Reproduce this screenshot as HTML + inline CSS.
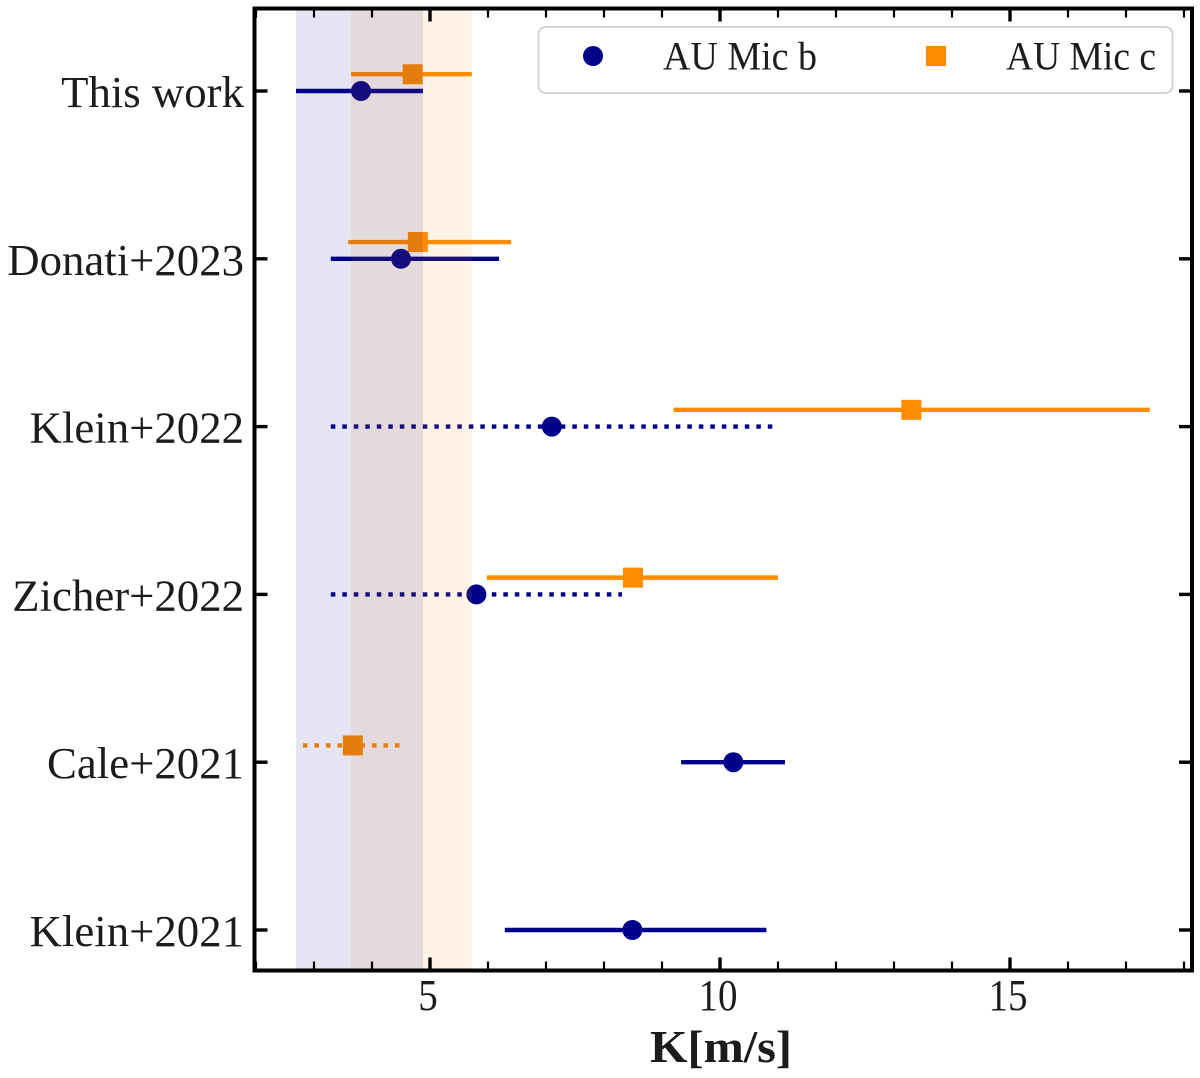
<!DOCTYPE html>
<html lang="en">
<head>
<meta charset="utf-8">
<title>AU Mic b and c RV semi-amplitude comparison</title>
<style>
  html, body { margin: 0; padding: 0; background: #fff; }
  body { width: 1200px; height: 1078px; overflow: hidden; }
  svg { display: block; }
  text { font-family: "Liberation Serif", serif; fill: #1c1c1c; }
</style>
</head>
<body>
<svg id="chart" xmlns="http://www.w3.org/2000/svg" width="1200" height="1078" viewBox="0 0 1200 1078"></svg>
<script>
const categories = ["Klein+2021", "Cale+2021", "Zicher+2022", "Klein+2022", "Donati+2023", "This work"];

const bValues = [8.49, 10.23, 5.80, 7.10, 4.50, 3.81];
const bLow = [6.29, 9.33, 3.29, 3.29, 3.29, 2.69];
const bHigh = [10.80, 11.12, 8.31, 10.91, 6.19, 4.88];
const bIsLimit = [false, false, true, true, false, false];

const cValues = [null, 3.67, 8.50, 13.30, 4.79, 4.70];
const cLow = [null, 2.81, 5.98, 9.20, 3.59, 3.64];
const cHigh = [null, 4.48, 11.00, 17.41, 6.40, 5.72];
const cIsLimit = [false, true, false, false, false, false];

const bBand = [2.69, 4.88];
const cBand = [3.64, 5.72];

const xMajorTicks = [5, 10, 15];
const xMinorTicks = [2, 3, 4, 6, 7, 8, 9, 11, 12, 13, 14, 16, 17, 18];
const xTickLabels = ["5", "10", "15"];

const NS = "http://www.w3.org/2000/svg";
const svg = document.getElementById("chart");
const BLUE = "#00008b";
const ORANGE = "#ff8c00";
const AX = { left: 254.5, right: 1192, top: 8.5, bottom: 970.5 };

function xScale(v) { return 430 + (v - 5) * 58; }
function yScale(i) { return 930 - i * 167.8; }
const C_OFFSET = 0.1;

function make(tag, attrs, parent) {
  const el = document.createElementNS(NS, tag);
  for (const k in attrs) el.setAttribute(k, attrs[k]);
  (parent || svg).appendChild(el);
  return el;
}

function drawSeries(values, low, high, limit, offset, color, square, label) {
  values.forEach(function (v, i) {
    if (v === null) return;
    const y = yScale(i + offset);
    const bar = make("line", {
      x1: xScale(low[i]), x2: xScale(high[i]), y1: y, y2: y,
      stroke: color, "stroke-width": 4.4
    });
    if (limit[i]) bar.setAttribute("stroke-dasharray", "4.5 7");
    
    
    let mark;
    if (square) {
      mark = make("rect", { x: xScale(v) - 10, y: y - 10, width: 20, height: 20, fill: color });
    } else {
      mark = make("ellipse", { cx: xScale(v), cy: y, rx: 10, ry: 10, fill: color });
    }
    
    
  });
}

// series first so that the translucent bands tint them
drawSeries(cValues, cLow, cHigh, cIsLimit, C_OFFSET, ORANGE, true, "au-mic-c");
drawSeries(bValues, bLow, bHigh, bIsLimit, 0, BLUE, false, "au-mic-b");

const bandC = make("rect", {
  x: xScale(cBand[0]), y: AX.top, width: xScale(cBand[1]) - xScale(cBand[0]),
  height: AX.bottom - AX.top, fill: ORANGE, "fill-opacity": 0.1
});



const bandB = make("rect", {
  x: xScale(bBand[0]), y: AX.top, width: xScale(bBand[1]) - xScale(bBand[0]),
  height: AX.bottom - AX.top, fill: BLUE, "fill-opacity": 0.1
});



// x ticks
xMajorTicks.forEach(function (t, i) {
  const x = xScale(t);
  const bottom = make("line", { x1: x, x2: x, y1: AX.bottom, y2: AX.bottom - 13, stroke: "#000", "stroke-width": 3.4 });
  
  
  const top = make("line", { x1: x, x2: x, y1: AX.top, y2: AX.top + 13, stroke: "#000", "stroke-width": 3.4 });
  
  
  const lab = make("text", {
    x: x - 2, y: 1010, "text-anchor": "middle", "font-size": 44,
    textLength: 19.5 * xTickLabels[i].length, lengthAdjust: "spacingAndGlyphs"
  });
  lab.textContent = xTickLabels[i];
  
  
});
xMinorTicks.forEach(function (t) {
  const x = xScale(t);
  const bottom = make("line", { x1: x, x2: x, y1: AX.bottom, y2: AX.bottom - 9, stroke: "#000", "stroke-width": 2.2 });
  
  
  const top = make("line", { x1: x, x2: x, y1: AX.top, y2: AX.top + 9, stroke: "#000", "stroke-width": 2.2 });
  
  
});

// y ticks and labels
categories.forEach(function (c, i) {
  const y = yScale(i);
  const left = make("line", { x1: AX.left, x2: AX.left + 13, y1: y, y2: y, stroke: "#000", "stroke-width": 3.4 });
  
  
  const right = make("line", { x1: AX.right, x2: AX.right - 13, y1: y, y2: y, stroke: "#000", "stroke-width": 3.4 });
  
  
  const lab = make("text", { x: 244, y: y + 16, "text-anchor": "end", "font-size": 44.8 });
  lab.textContent = c;
  
  
});

// frame
const frame = make("rect", {
  x: AX.left, y: AX.top, width: AX.right - AX.left, height: AX.bottom - AX.top,
  fill: "none", stroke: "#000", "stroke-width": 4
});



// axis title
const xTitle = make("text", {
  x: 650, y: 1062, "font-size": 46, "font-weight": "bold",
  textLength: 142, lengthAdjust: "spacingAndGlyphs"
});
xTitle.textContent = "K[m/s]";



// legend
const legend = make("g", {});



const legendBox = make("rect", {
  x: 538.5, y: 27, width: 634, height: 66, rx: 7, ry: 7,
  fill: "#fff", stroke: "#d4d4d4", "stroke-width": 2
}, legend);



const legendB = make("ellipse", { cx: 593, cy: 56, rx: 10, ry: 10, fill: BLUE }, legend);



const legendBText = make("text", {
  x: 663, y: 69.5, "font-size": 40, textLength: 154, lengthAdjust: "spacingAndGlyphs"
}, legend);
legendBText.textContent = "AU Mic b";



const legendC = make("rect", { x: 926, y: 46, width: 20, height: 20, fill: ORANGE }, legend);



const legendCText = make("text", {
  x: 1006, y: 69.5, "font-size": 40, textLength: 150, lengthAdjust: "spacingAndGlyphs"
}, legend);
legendCText.textContent = "AU Mic c";


</script>
</body>
</html>
